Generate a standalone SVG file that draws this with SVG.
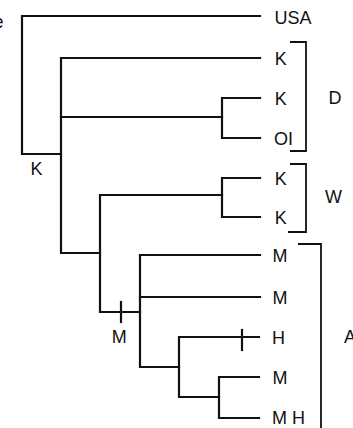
<svg xmlns="http://www.w3.org/2000/svg" width="353" height="428" viewBox="0 0 353 428">
<style>
.e{fill:none;stroke:#111;stroke-width:2.2;stroke-linecap:square;stroke-linejoin:miter}
.b{fill:none;stroke:#111;stroke-width:1.8}
text{font-family:"Liberation Sans",Arial,sans-serif;font-size:18px;fill:#111}
</style>
<rect width="353" height="428" fill="#fff"/>
<g id="connectors">
<path class="e" d="M260,16 H22 V154 H61"/>
<path class="e" d="M260,58 H61 V253 H100"/>
<path class="e" d="M61,117 H222"/>
<path class="e" d="M260,98 H222 V138 H260"/>
<path class="e" d="M222,195 H100 V312 H140"/>
<path class="e" d="M260,178 H222 V217 H260"/>
<path class="e" d="M121,302 V322"/>
<path class="e" d="M260,255 H140 V367 H179"/>
<path class="e" d="M140,297 H260"/>
<path class="e" d="M259,337 H179 V397 H219"/>
<path class="e" d="M242,330 V350"/>
<path class="e" d="M259,377 H219 V418 H259"/>
</g>
<g id="brackets">
<path class="b" d="M290,42 H306 V151 H290"/>
<path class="b" d="M290,164 H306 V232 H288"/>
<path class="b" d="M298,244 H321 V428"/>
</g>
<g id="n-usa"><text x="274.5" y="24">USA</text></g>
<g id="n-k1"><text x="274.7" y="64.5">K</text></g>
<g id="n-k2"><text x="274.7" y="104.5">K</text></g>
<g id="n-oi"><text x="274" y="144.5">OI</text></g>
<g id="n-k3"><text x="274.7" y="184.5">K</text></g>
<g id="n-k4"><text x="274.7" y="223.5">K</text></g>
<g id="n-m1"><text x="272.5" y="261.5">M</text></g>
<g id="n-m2"><text x="272.5" y="303.5">M</text></g>
<g id="n-h"><text x="272" y="343.5">H</text></g>
<g id="n-m3"><text x="272.5" y="383.5">M</text></g>
<g id="n-mh"><text x="272" y="424">M H</text></g>
<g id="labels">
<text x="-6.5" y="28">e</text>
<text x="30.5" y="175">K</text>
<text x="111.7" y="343">M</text>
<text x="328.5" y="104">D</text>
<text x="325" y="203">W</text>
<text x="344" y="343">A</text>
</g>
</svg>
